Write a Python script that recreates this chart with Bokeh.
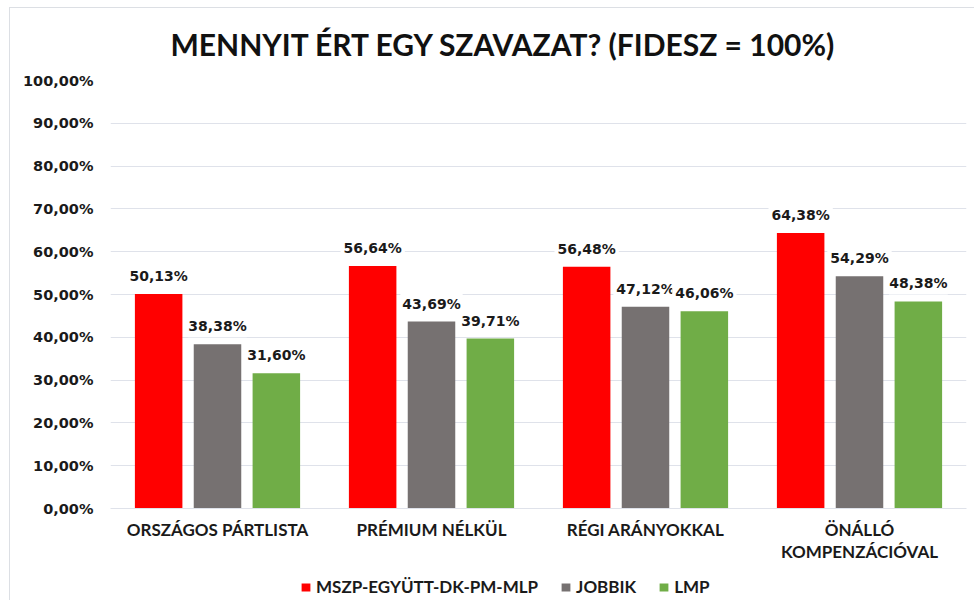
from bokeh.plotting import figure
from bokeh.models import (FactorRange, Range1d, ColumnDataSource, LabelSet, Legend,
                          LegendItem, FixedTicker)
from bokeh.layouts import column
from bokeh.core.properties import value
from bokeh.transform import dodge
from bokeh.embed import file_html
from bokeh.resources import INLINE

categories = ["ORSZÁGOS PÁRTLISTA", "PRÉMIUM NÉLKÜL", "RÉGI ARÁNYOKKAL", "ÖNÁLLÓ\nKOMPENZÁCIÓVAL"]
series_names = ["MSZP-EGYÜTT-DK-PM-MLP", "JOBBIK", "LMP"]
mszp = [50.13, 56.64, 56.48, 64.38]
jobbik = [38.38, 43.69, 47.12, 54.29]
lmp = [31.60, 39.71, 46.06, 48.38]
colors = ["#FF0000", "#767171", "#70AD47"]
y_ticks = [0, 10, 20, 30, 40, 50, 60, 70, 80, 90, 100]
y_tick_labels = ["0,00%", "10,00%", "20,00%", "30,00%", "40,00%", "50,00%",
                 "60,00%", "70,00%", "80,00%", "90,00%", "100,00%"]

def fmt(v):
    return ("%.2f" % v).replace(".", ",") + "%"

p = figure(x_range=FactorRange(factors=categories), y_range=Range1d(0, 100),
           width=964, height=560, output_backend="svg", toolbar_location=None,
           min_border_left=100, min_border_right=8, min_border_top=72, min_border_bottom=60)

p.title.text = "MENNYIT ÉRT EGY SZAVAZAT? (FIDESZ = 100%)"
p.title.align = "left"
p.title.vertical_align = "top"
p.title.text_font = "Lato"
p.title.text_font_style = "bold"
p.title.text_font_size = "30px"
p.title.text_line_height = 0.85
p.title.text_color = "#111111"
p.title.offset = 60
p.title.standoff = 34

p.outline_line_color = None
p.xgrid.grid_line_color = None
p.ygrid.grid_line_color = "#dfe2ea"
p.ygrid.grid_line_width = 1

p.yaxis.ticker = FixedTicker(ticks=y_ticks)
p.yaxis.major_label_overrides = {t: l for t, l in zip(y_ticks, y_tick_labels)}
p.yaxis.axis_line_color = None
p.yaxis.major_tick_line_color = None
p.yaxis.minor_tick_line_color = None
p.yaxis.major_tick_out = 0
p.yaxis.minor_tick_out = 0
p.yaxis.major_label_standoff = 17
p.yaxis.major_label_text_font = "DejaVu Sans"
p.yaxis.major_label_text_font_style = "bold"
p.yaxis.major_label_text_font_size = "14.5px"
p.yaxis.major_label_text_color = "#1a1a1a"

p.xaxis.axis_line_color = "#dfe2ea"
p.xaxis.major_tick_line_color = None
p.xaxis.minor_tick_line_color = None
p.xaxis.major_tick_out = 0
p.xaxis.minor_tick_out = 0
p.xaxis.major_label_standoff = 10
p.xaxis.major_label_text_font = "Lato"
p.xaxis.major_label_text_font_style = "bold"
p.xaxis.major_label_text_font_size = "17px"
p.xaxis.major_label_text_line_height = 1.05
p.xaxis.major_label_text_color = "#1a1a1a"

offsets = [-0.275, 0.0, 0.275]
for vals, col, off in zip([mszp, jobbik, lmp], colors, offsets):
    src = ColumnDataSource(dict(cat=categories, val=vals, lab=[fmt(v) for v in vals]))
    p.vbar(x=dodge("cat", off, range=p.x_range), top="val", width=0.222, source=src,
           fill_color=col, line_color=None)
for vals, col, off in zip([mszp, jobbik, lmp], colors, offsets):
    src = ColumnDataSource(dict(cat=categories, val=vals, lab=[fmt(v) for v in vals]))
    ls = LabelSet(x=dodge("cat", off, range=p.x_range), y="val", text="lab", source=src,
                  y_offset=18, text_align="center", text_baseline="middle",
                  text_font=value("DejaVu Sans"), text_font_style="bold",
                  text_font_size=value("14px"),
                  text_color="#1a1a1a", background_fill_color="white",
                  border_line_color="white", border_line_width=6)
    p.add_layout(ls)

# legend strip below the chart (swatch renderers sit outside the strip's visible range)
lf = figure(x_range=Range1d(0, 1), y_range=Range1d(0, 1), width=964, height=32,
            output_backend="svg", toolbar_location=None,
            min_border_left=0, min_border_right=0, min_border_top=0, min_border_bottom=0)
lf.axis.visible = False
lf.grid.visible = False
lf.outline_line_color = None
leg_renderers = [lf.vbar(x=[-5], top=[-5], width=0.1, fill_color=c, line_color=None)
                 for c in colors]
legend = Legend(items=[LegendItem(label=n, renderers=[r]) for n, r in zip(series_names, leg_renderers)],
                orientation="horizontal", location=(190, 3),
                glyph_width=11, glyph_height=10, label_standoff=5, spacing=22,
                padding=0, margin=0, border_line_color=None, background_fill_alpha=0,
                label_text_font="Lato", label_text_font_style="bold", label_text_font_size="17px",
                label_text_color="#1a1a1a")
lf.add_layout(legend, "center")

root = column(p, lf, spacing=0)
root.styles = {"border-top": "1px solid #dcdfe4", "border-left": "1px solid #dcdfe4",
               "margin-top": "7px", "margin-left": "9px"}

open("out.html", "w").write(file_html(root, INLINE))
